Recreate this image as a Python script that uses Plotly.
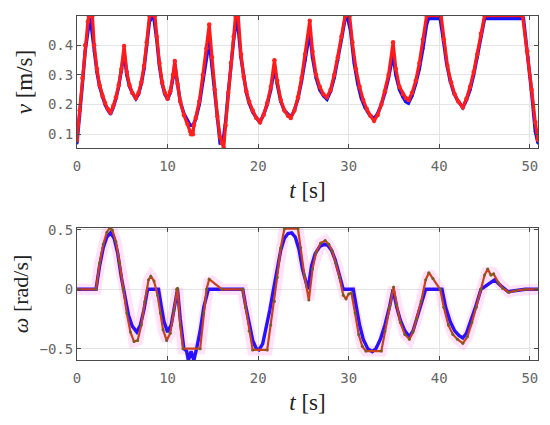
import plotly.graph_objects as go
from plotly.subplots import make_subplots

# ---------------- top panel: linear velocity v [m/s] ----------------
t_v_ref = [0.0,0.3,0.6,0.9,1.2,1.4,1.6,1.9,2.2,2.5,2.8,3.1,3.4,3.7,4.0,4.3,4.6,4.9,5.2,5.5,5.8,6.1,6.5,6.8,7.1,7.4,7.7,8.0,8.2,8.5,8.8,9.1,9.4,9.7,10.0,10.3,10.6,10.8,11.1,11.4,11.8,12.2,12.5,12.8,13.1,13.5,13.9,14.3,14.6,14.9,15.2,15.5,15.8,16.1,16.4,16.7,17.0,17.3,17.6,17.8,18.1,18.4,18.7,19.0,19.4,19.8,20.2,20.6,21.0,21.4,21.8,22.1,22.5,22.9,23.3,23.6,24.0,24.4,24.8,25.2,25.7,26.0,26.4,26.8,27.2,27.6,28.0,28.4,28.8,29.2,29.6,29.9,30.2,30.6,31.0,31.4,31.8,32.3,32.8,33.2,33.6,34.0,34.4,34.9,35.2,35.6,36.0,36.3,36.6,37.0,37.4,37.8,38.2,38.6,38.8,40.1,40.4,40.8,41.2,41.6,42.0,42.6,43.0,43.4,43.8,44.2,44.6,45.0,49.3,49.8,50.2,50.6,50.9]
v_ref = [0.07,0.16,0.27,0.38,0.46,0.49,0.46,0.38,0.31,0.26,0.225,0.2,0.182,0.168,0.19,0.22,0.26,0.31,0.375,0.30,0.26,0.24,0.22,0.235,0.27,0.32,0.40,0.48,0.49,0.49,0.42,0.33,0.27,0.235,0.218,0.24,0.29,0.335,0.27,0.21,0.17,0.145,0.13,0.13,0.15,0.20,0.28,0.36,0.415,0.33,0.24,0.15,0.07,0.07,0.14,0.24,0.34,0.42,0.485,0.46,0.36,0.29,0.24,0.205,0.175,0.155,0.142,0.165,0.20,0.25,0.325,0.27,0.21,0.18,0.165,0.158,0.18,0.22,0.28,0.35,0.445,0.36,0.29,0.25,0.23,0.218,0.245,0.29,0.35,0.42,0.49,0.49,0.45,0.34,0.27,0.22,0.19,0.165,0.152,0.17,0.20,0.24,0.29,0.37,0.30,0.25,0.225,0.21,0.205,0.23,0.27,0.32,0.39,0.47,0.49,0.49,0.43,0.34,0.28,0.24,0.215,0.19,0.215,0.25,0.30,0.36,0.43,0.49,0.49,0.36,0.24,0.11,0.07]

t_v_act = [0.0,0.3,0.6,0.9,1.2,1.3,1.7,1.9,2.2,2.5,2.8,3.1,3.4,3.7,4.0,4.3,4.6,4.9,5.2,5.5,5.8,6.1,6.5,6.8,7.1,7.4,7.7,8.0,8.6,8.8,9.1,9.4,9.7,10.0,10.3,10.6,10.8,11.1,11.4,11.8,12.2,12.5,12.6,12.8,12.9,13.1,13.5,13.9,14.3,14.6,14.9,15.2,15.5,15.8,16.0,16.2,16.4,16.7,17.0,17.3,17.5,17.8,18.1,18.4,18.7,19.0,19.4,19.8,20.2,20.6,21.0,21.4,21.8,22.1,22.5,22.9,23.3,23.6,24.0,24.4,24.8,25.2,25.7,26.0,26.4,26.8,27.2,27.6,28.0,28.4,28.8,29.2,29.6,30.1,30.4,30.8,31.2,31.6,32.0,32.4,32.8,33.2,33.6,34.0,34.4,34.9,35.2,35.6,36.0,36.3,36.6,37.0,37.4,37.8,38.2,38.6,40.2,40.5,40.9,41.3,41.7,42.1,42.6,43.0,43.4,43.8,44.2,44.6,45.0,49.2,49.7,50.2,50.6,50.9]
v_act = [0.08,0.18,0.29,0.40,0.48,0.50,0.50,0.40,0.32,0.265,0.23,0.205,0.185,0.172,0.195,0.225,0.265,0.32,0.398,0.31,0.265,0.24,0.222,0.24,0.275,0.33,0.41,0.50,0.50,0.43,0.34,0.275,0.24,0.22,0.245,0.30,0.347,0.27,0.21,0.165,0.135,0.11,0.10,0.10,0.13,0.155,0.21,0.30,0.39,0.47,0.36,0.25,0.16,0.09,0.07,0.053,0.13,0.24,0.34,0.43,0.50,0.50,0.37,0.295,0.245,0.21,0.18,0.155,0.14,0.165,0.205,0.26,0.35,0.28,0.215,0.18,0.162,0.155,0.18,0.225,0.29,0.37,0.483,0.38,0.30,0.26,0.235,0.225,0.25,0.30,0.36,0.43,0.50,0.50,0.41,0.32,0.26,0.215,0.185,0.162,0.145,0.165,0.20,0.245,0.30,0.41,0.32,0.26,0.235,0.222,0.215,0.24,0.28,0.34,0.42,0.50,0.50,0.42,0.33,0.275,0.235,0.21,0.19,0.22,0.26,0.31,0.37,0.44,0.50,0.50,0.38,0.25,0.14,0.08]

# ---------------- bottom panel: angular velocity omega [rad/s] ----------------
t_w_ref = [0,2.1,2.5,2.9,3.3,3.7,4.1,4.5,4.9,5.3,5.7,6.1,6.6,7.0,7.4,7.8,9.0,9.3,9.6,10.0,10.4,10.8,11.1,11.4,11.8,12.1,12.3,12.6,12.9,13.2,13.6,14.0,14.5,16.0,18.3,18.6,19.0,19.4,19.8,20.1,20.5,20.9,21.3,21.7,22.1,22.5,22.9,23.3,23.7,24.1,24.5,24.9,25.5,25.9,26.3,26.8,27.3,27.7,28.1,28.5,28.9,29.4,30.5,30.8,31.2,31.6,32.1,32.6,33.0,33.5,34.0,34.5,34.9,35.3,35.7,36.2,36.7,37.1,37.5,38.0,38.5,40.3,40.7,41.2,41.7,42.2,42.6,43.0,43.5,44.0,44.6,45.0,46.1,46.8,47.6,48.5,49.5,50.9]
w_ref = [0,0,0.2,0.35,0.44,0.475,0.43,0.3,0.1,-0.08,-0.22,-0.31,-0.36,-0.3,-0.17,0,0,-0.14,-0.27,-0.36,-0.3,-0.13,0,-0.25,-0.5,-0.52,-0.6,-0.52,-0.6,-0.5,-0.35,-0.15,0,0,0,-0.13,-0.3,-0.43,-0.5,-0.51,-0.46,-0.33,-0.17,0,0.18,0.33,0.43,0.47,0.475,0.44,0.34,0.17,0.0,0.2,0.3,0.36,0.38,0.37,0.33,0.25,0.14,0,0,-0.12,-0.3,-0.42,-0.5,-0.525,-0.5,-0.42,-0.3,-0.15,0,-0.15,-0.26,-0.35,-0.4,-0.35,-0.25,-0.12,0,0,-0.15,-0.27,-0.35,-0.39,-0.41,-0.37,-0.27,-0.15,0,0.02,0.08,0.03,-0.02,-0.01,0,0]

t_w_act = [0,2.1,2.5,2.9,3.3,3.6,3.9,4.3,4.7,5.1,5.5,5.9,6.3,6.7,7.1,7.5,7.9,8.15,8.5,8.9,9.2,9.5,9.9,10.3,10.7,11.0,11.1,11.4,11.7,13.6,14.0,14.3,14.6,16.0,18.3,18.6,19.0,19.4,21.0,21.4,21.8,22.1,22.5,22.9,24.4,24.7,25.1,25.6,26.0,26.4,26.9,27.4,27.8,28.2,28.6,29.0,29.4,29.7,30.0,30.3,30.7,31.1,31.5,31.9,33.6,34.0,34.5,34.95,35.3,35.7,36.2,36.7,37.1,37.5,38.0,38.5,38.85,39.3,40.1,40.5,41.0,41.5,42.0,42.6,43.1,43.6,44.1,44.6,45.0,45.35,45.7,46.0,46.5,47.0,47.7,48.5,49.5,50.9]
w_act = [0,0,0.22,0.38,0.48,0.515,0.5,0.4,0.22,0.0,-0.2,-0.36,-0.44,-0.43,-0.3,-0.1,0.08,0.11,0.07,-0.05,-0.2,-0.34,-0.43,-0.37,-0.18,0.0,0.01,-0.3,-0.5,-0.5,-0.2,0.0,0.085,0.0,0.0,-0.15,-0.35,-0.51,-0.51,-0.3,-0.1,0.1,0.35,0.51,0.51,0.35,0.12,-0.09,0.17,0.31,0.39,0.41,0.38,0.32,0.22,0.1,-0.05,-0.08,-0.04,-0.03,-0.2,-0.38,-0.48,-0.52,-0.52,-0.35,-0.15,0.02,-0.13,-0.28,-0.38,-0.42,-0.36,-0.25,-0.1,0.08,0.14,0.09,0.0,-0.15,-0.3,-0.38,-0.42,-0.455,-0.4,-0.28,-0.15,0.0,0.12,0.17,0.12,0.13,0.06,0.01,-0.025,-0.01,0.0,0.0]

x_ticks = [0, 10, 20, 30, 40, 50]
v_ticks = [0.1, 0.2, 0.3, 0.4]
v_tick_text = ["0.1", "0.2", "0.3", "0.4"]
w_ticks = [-0.5, 0, 0.5]
w_tick_text = ["\u22120.5", "0", "0.5"]

fig = make_subplots(rows=2, cols=1, vertical_spacing=0.232)

# top panel
fig.add_trace(go.Scatter(x=t_v_ref, y=v_ref, mode="lines+markers",
                         line=dict(color="#1414ff", width=3.4),
                         marker=dict(color="#1414ff", size=3),
                         showlegend=False), row=1, col=1)
fig.add_trace(go.Scatter(x=t_v_act, y=v_act, mode="lines+markers",
                         line=dict(color="#ff1a1a", width=3.2),
                         marker=dict(color="#ff2020", size=4.5),
                         showlegend=False), row=1, col=1)

# bottom panel
fig.add_trace(go.Scatter(x=t_w_act, y=w_act, mode="lines",
                         line=dict(color="rgba(255,120,230,0.22)", width=11),
                         showlegend=False, hoverinfo="skip"), row=2, col=1)
fig.add_trace(go.Scatter(x=t_w_ref, y=w_ref, mode="lines",
                         line=dict(color="#2a10ff", width=3.4),
                         showlegend=False), row=2, col=1)
fig.add_trace(go.Scatter(x=t_w_act, y=w_act, mode="lines+markers",
                         line=dict(color="#c8401c", width=2.2),
                         marker=dict(color="#74601c", size=3),
                         showlegend=False), row=2, col=1)

tickfont = dict(family="DejaVu Sans Mono", size=14, color="#666666")
axis_common = dict(showline=True, linecolor="#4a4a4a", linewidth=1, mirror="ticks",
                   ticks="inside", ticklen=4, tickcolor="#4a4a4a",
                   showgrid=True, gridcolor="#e4e4e4", gridwidth=1,
                   zeroline=False, tickfont=tickfont, automargin=False)

for r in (1, 2):
    fig.update_xaxes(range=[0, 50.9], tickvals=x_ticks, ticktext=[str(v) for v in x_ticks],
                     ticklabelstandoff=5,
                     title=dict(text="<i>t</i> [s]", standoff=9,
                                font=dict(family="Liberation Serif", size=23, color="#222222")),
                     row=r, col=1, **axis_common)

fig.update_yaxes(range=[0.053, 0.499], tickvals=v_ticks, ticktext=v_tick_text,
                 title=dict(text="<i>v</i> [m/s]", standoff=8,
                            font=dict(family="Liberation Serif", size=23, color="#222222")),
                 row=1, col=1, **axis_common)
fig.update_yaxes(range=[-0.595, 0.517], tickvals=w_ticks, ticktext=w_tick_text,
                 title=dict(text="<i>\u03c9</i> [rad/s]", standoff=5,
                            font=dict(family="Liberation Serif", size=22, color="#222222")),
                 row=2, col=1, **axis_common)

# page body has an 8px default margin, so the figure is sized to fit the 550x425 window
fig.update_layout(width=542, height=417, margin=dict(l=69, r=12, t=8, b=65),
                  plot_bgcolor="white", paper_bgcolor="white")

fig.write_html("out.html")
